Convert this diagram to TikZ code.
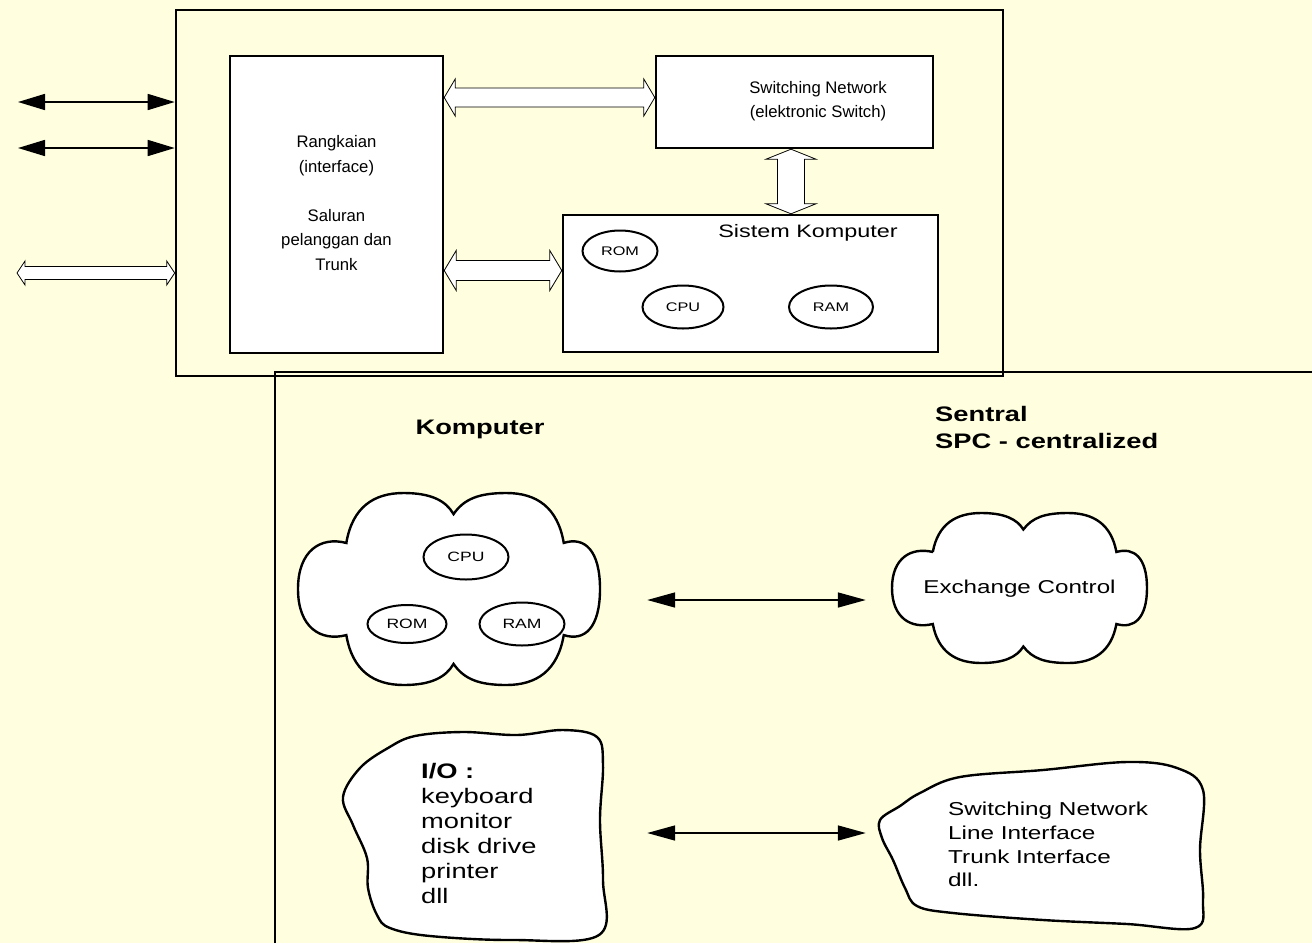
\documentclass[tikz,border=0pt]{standalone}
\usepackage{fontspec}
\setmainfont{Liberation Sans}[FakeStretch=1.3]
\newfontfamily\plainsans{Liberation Sans}
\usetikzlibrary{arrows.meta,shapes.geometric,calc}
\definecolor{bgy}{RGB}{255,255,224}
\newcommand\hollowH[5]{\path[harrow] let \p1=(#1), \p2=(#2) in (\x1,\y1) -- (\x1+#5,\y1+#4) -- (\x1+#5,\y1+#3) -- (\x2-#5,\y1+#3) -- (\x2-#5,\y1+#4) -- (\x2,\y1) -- (\x2-#5,\y1-#4) -- (\x2-#5,\y1-#3) -- (\x1+#5,\y1-#3) -- (\x1+#5,\y1-#4) -- cycle;}
\newcommand\hollowV[5]{\path[harrow] let \p1=(#1), \p2=(#2) in (\x1,\y1) -- (\x1+#4,\y1-#5) -- (\x1+#3,\y1-#5) -- (\x1+#3,\y2+#5) -- (\x1+#4,\y2+#5) -- (\x1,\y2) -- (\x1-#4,\y2+#5) -- (\x1-#3,\y2+#5) -- (\x1-#3,\y1-#5) -- (\x1-#4,\y1-#5) -- cycle;}
\newcommand\mycloudpath{(-0.68,-0.48) .. controls (-0.64,-0.85) and (-0.5,-1) .. (-0.3,-1)
 .. controls (-0.12,-1) and (-0.02,-0.92) .. (0.03,-0.78)
 .. controls (0.1,-0.94) and (0.2,-1) .. (0.38,-1)
 .. controls (0.58,-1) and (0.72,-0.85) .. (0.76,-0.48)
 .. controls (0.9,-0.55) and (1,-0.4) .. (1,0)
 .. controls (1,0.4) and (0.9,0.55) .. (0.76,0.48)
 .. controls (0.72,0.85) and (0.58,1) .. (0.38,1)
 .. controls (0.2,1) and (0.1,0.94) .. (0.03,0.78)
 .. controls (-0.02,0.92) and (-0.12,1) .. (-0.3,1)
 .. controls (-0.5,1) and (-0.64,0.85) .. (-0.68,0.48)
 .. controls (-0.85,0.55) and (-1,0.4) .. (-1,0)
 .. controls (-1,-0.4) and (-0.85,-0.55) .. cycle}
\begin{document}
\begin{tikzpicture}[x=1pt,y=-1pt,
  whitebox/.style={draw, fill=white, line width=2.4pt, inner sep=0pt},
  oval/.style={draw, fill=white, ellipse, line width=2pt, inner sep=0pt},
  harrow/.style={draw=black, fill=white, line width=0.8pt, line join=miter},
  dblk/.style={line width=1.6pt, {Triangle[length=27pt,width=16pt]}-{Triangle[length=27pt,width=16pt]}},
  cloudline/.style={draw, fill=white, line width=2.4pt},
  inv/.style={inner sep=0pt},
  tbox/.style={font=\plainsans\fontsize{16.7}{24.5}\selectfont, align=center},
  tell/.style={font=\fontsize{12.5}{15}\selectfont},
]
\fill[bgy] (0,0) rectangle (1312,943);
\useasboundingbox (0,0) rectangle (1312,943);
% top outer box
\node[draw, line width=2.6pt, minimum width=827pt, minimum height=366pt, inner sep=0pt] (outer) at (589.5,193) {};
% bottom region frame
\coordinate (bcorner) at (275,372);
\coordinate (bright) at (1312,372);
\coordinate (bbottom) at (275,943);
\draw[line width=2.6pt] (bbottom) -- (bcorner) -- (bright);
% inner boxes
\node[whitebox, minimum width=213pt, minimum height=297pt] (rang) at (336.5,204.5) {};
\node[tbox] (rangtxt) at (336.5,203)
  {Rangkaian\\(interface)\\ \\Saluran\\pelanggan dan\\Trunk};
\node[whitebox, minimum width=277pt, minimum height=92pt] (sw) at (794.5,102) {};
\node[tbox, font=\plainsans\fontsize{16.7}{24}\selectfont] (swtxt1) at (818,101) {Switching Network\\(elektronic Switch)};
\node[whitebox, minimum width=375pt, minimum height=137pt] (sys) at (750.5,283.5) {};
\node[font=\fontsize{18}{20}\selectfont] (systxt) at (808,233) {Sistem Komputer};
\node[oval, tell, minimum width=75pt, minimum height=41pt] (rom1) at (620,251) {ROM};
\node[oval, tell, minimum width=81pt, minimum height=43pt] (cpu1) at (683,307) {CPU};
\node[oval, tell, minimum width=84pt, minimum height=43pt] (ram1) at (831,307) {RAM};
% left arrows
\coordinate (l1) at (18,102);
\coordinate (l2) at (18,148);
\coordinate (l3) at (17,273);
\draw[dblk] (l1) -- (outer.west |- l1);
\draw[dblk] (l2) -- (outer.west |- l2);
\hollowH{l3}{outer.west |- l3}{6.5pt}{12pt}{8pt}
% hollow arrows in top box
\coordinate (y97) at (0,97.5);
\coordinate (y271) at (0,270.5);
\coordinate (x792) at (791,0);
\hollowH{rang.east |- y97}{sw.west |- y97}{9.5pt}{18.5pt}{11pt}
\hollowH{rang.east |- y271}{sys.west |- y271}{10pt}{20pt}{12pt}
\hollowV{x792 |- sw.south}{x792 |- sys.north}{13.5pt}{25pt}{10pt}
% headings
\node[font=\fontsize{21}{25}\selectfont\bfseries] (komp) at (480,429) {Komputer};
\node[font=\fontsize{21}{27}\selectfont\bfseries, align=left, anchor=west, inner sep=0pt] (sent) at (935,427.5) {Sentral\\SPC - centralized};
% cloud 1
\node[inv, minimum width=302pt, minimum height=192pt] (c1) at (449,589) {};
\draw[cloudline, shift={(c1.center)}, xscale=151, yscale=96] \mycloudpath;
\node[oval, font=\fontsize{13.5}{15}\selectfont, minimum width=85pt, minimum height=45pt] (cpu2) at (466,557) {CPU};
\node[oval, font=\fontsize{13.5}{15}\selectfont, minimum width=79pt, minimum height=38pt] (rom2) at (407,624) {ROM};
\node[oval, font=\fontsize{13.5}{15}\selectfont, minimum width=85pt, minimum height=43pt] (ram2) at (522,624) {RAM};
% cloud 2
\node[inv, minimum width=255pt, minimum height=150pt] (c2) at (1019.5,588) {};
\draw[cloudline, shift={(c2.center)}, xscale=127.5, yscale=75] \mycloudpath;
\node[font=\fontsize{18.6}{20}\selectfont] (ex) at (1019.5,589) {Exchange Control};
% blobs
\node[inv, minimum width=262pt, minimum height=208pt] (io) at (470,833) {};
\draw[cloudline] plot[smooth cycle, tension=0.6] coordinates {(388,748) (415,736) (463,732) (517,735) (563,730) (597,737) (603,765) (600,820) (603,880) (599,935) (513,940) (430,936) (390,928) (377,915) (368,888) (367,858) (353,825) (343,797) (360,768)};
\node[font=\fontsize{21}{25}\selectfont, align=left, anchor=west, inner sep=0pt] (iotxt) at (421,833.5)
  {\textbf{I/O :}\\keyboard\\monitor\\disk drive\\printer\\dll};
\node[inv, minimum width=325pt, minimum height=170pt] (sw2) at (1042.5,833) {};
\draw[cloudline] plot[smooth cycle, tension=0.6] coordinates {(880,820) (900,806) (920,793) (960,777) (1043,770) (1127,762) (1177,768) (1203,790) (1200,850) (1203,900) (1195,928) (1127,924) (1043,920) (953,913) (917,906) (905,888) (893,860) (882,838)};
\node[font=\fontsize{18.7}{23.7}\selectfont, align=left, anchor=west, inner sep=0pt] (swtxt) at (948,844.5)
  {Switching Network\\Line Interface\\Trunk Interface\\dll.};
% middle arrows
\draw[line width=1.6pt, {Triangle[length=28pt,width=15pt]}-{Triangle[length=28pt,width=15pt]}] ([xshift=47pt,yshift=-11pt]c1.east) -- ([xshift=-26pt,yshift=-12pt]c2.west);
\draw[line width=1.6pt, {Triangle[length=28pt,width=15pt]}-{Triangle[length=28pt,width=15pt]}] ([xshift=46pt]io.east) -- ([xshift=-14pt]sw2.west);
\end{tikzpicture}
\end{document}
